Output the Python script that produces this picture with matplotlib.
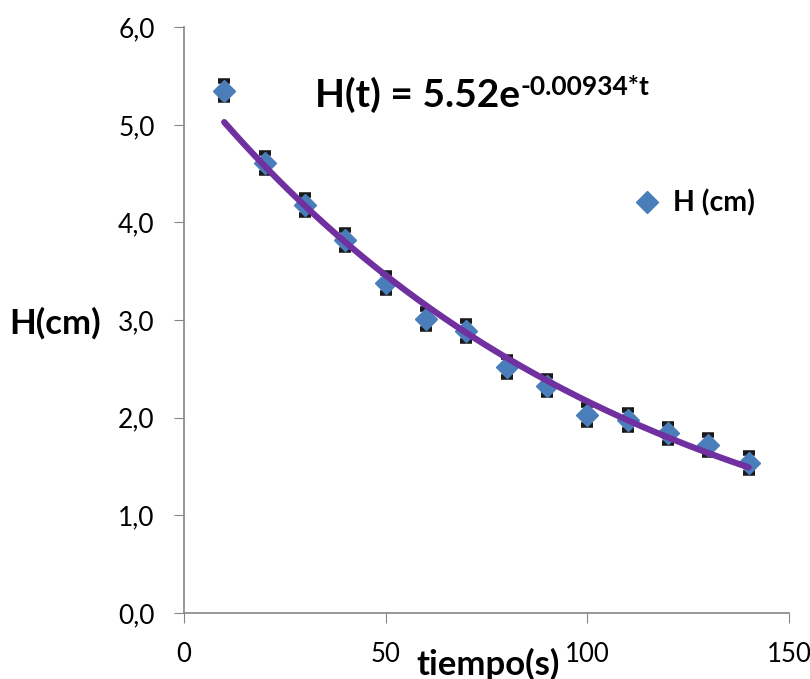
import numpy as np
import matplotlib.pyplot as plt
from matplotlib.ticker import FuncFormatter

plt.rcParams['font.family'] = ['Lato', 'DejaVu Sans']

# measured heights
t = [10, 20, 30, 40, 50, 60, 70, 80, 90, 100, 110, 120, 130, 140]
H = [5.35, 4.61, 4.18, 3.82, 3.38, 3.01, 2.89, 2.52, 2.33, 2.03, 1.98, 1.84, 1.72, 1.54]
err = 0.1

# exponential fit H(t) = A*exp(-k*t)
A = 5.52
k = 0.00934

fig = plt.figure(figsize=(8.1, 6.79), dpi=100)
ax = fig.add_axes([0.227, 0.097, 0.747, 0.863])

ax.errorbar(t, H, yerr=err, fmt='none', ecolor='#1a1a1a', elinewidth=2,
            capsize=4.5, capthick=4, zorder=2)
ax.plot(t, H, linestyle='none', marker='D', markersize=11, color='#4a7ebb',
        label='H (cm)', zorder=3)
tt = np.linspace(t[0], t[-1], 200)
ax.plot(tt, A * np.exp(-k * tt), color='#7030a0', linewidth=4.5,
        solid_capstyle='round', zorder=4)

ax.set_xlim(0, 150)
ax.set_ylim(0, 6)
ax.set_xticks([0, 50, 100, 150])
ax.set_yticks(np.arange(0, 6.1, 1))
ax.yaxis.set_major_formatter(FuncFormatter(lambda v, p: f"{v:.1f}".replace('.', ',')))
ax.tick_params(axis='x', labelsize=18.5, length=7, color='#868686', pad=14)
ax.tick_params(axis='y', labelsize=19, length=7, color='#868686', pad=14)
for s in ['top', 'right']:
    ax.spines[s].set_visible(False)
for s in ['left', 'bottom']:
    ax.spines[s].set_color('#868686')
    ax.spines[s].set_linewidth(1.2)

fig.text(55 / 810, 1 - 323 / 679, 'H(cm)', fontsize=25, fontweight='bold',
         ha='center', va='center')
fig.text(488 / 810, 1 - 664 / 679, 'tiempo(s)', fontsize=25, fontweight='bold',
         ha='center', va='center')

main = fig.text(315 / 810, 1 - 107 / 679, 'H(t) = 5.52e', fontsize=28,
                fontweight='bold', ha='left', va='baseline')
fig.canvas.draw()
bb = main.get_window_extent()
fig.text(bb.x1 / 810 + 0.001, 1 - 95 / 679, '-0.00934*t', fontsize=19,
         fontweight='bold', ha='left', va='baseline')

ax.legend(loc='center left', bbox_to_anchor=(0.74, 0.70), frameon=False,
          prop={'weight': 'bold', 'size': 20.5}, handletextpad=0.35,
          handlelength=1.1, borderpad=0, borderaxespad=0)

fig.savefig('out.png', dpi=100)
